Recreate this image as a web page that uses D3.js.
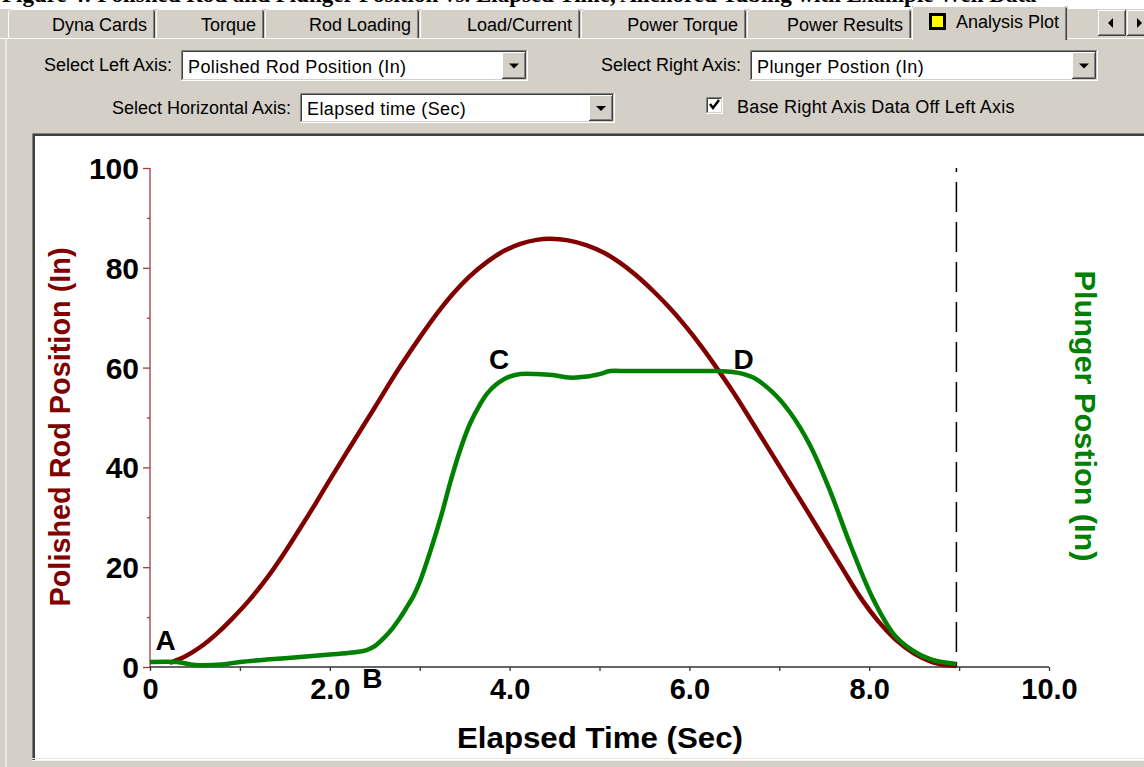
<!DOCTYPE html>
<html>
<head>
<meta charset="utf-8">
<script src="https://cdn.jsdelivr.net/npm/d3@7"></script>
<style>
  html, body { margin: 0; padding: 0; background: #d4d0c8; overflow: hidden; }
  svg { display: block; }
</style>
</head>
<body>
<svg id="chart" width="1144" height="767"></svg>
<script>
// ---- Data ----
// Polished rod position (in) against elapsed time (sec)
const rodTime = [0.22, 0.4, 0.56, 0.75, 0.92, 1.1, 1.3, 1.5, 1.67, 1.85, 2.0, 2.25, 2.5, 2.75, 3.0, 3.2, 3.37, 3.55, 3.75, 3.95, 4.12, 4.3, 4.45, 4.65, 4.86, 5.05, 5.23, 5.4, 5.6, 5.8, 5.97, 6.13, 6.27, 6.49, 6.7, 6.9, 7.1, 7.3, 7.5, 7.7, 7.9, 8.1, 8.3, 8.5, 8.7, 8.85, 8.97];
const rodPos  = [0.8, 2.2, 4, 6.8, 9.8, 13.3, 17.8, 23, 27.8, 33, 37.5, 44.8, 52, 59.3, 66, 71, 74.8, 78.2, 81.2, 83.5, 84.8, 85.6, 85.8, 85.5, 84.5, 83, 81, 78.6, 75.3, 71.6, 68, 64.3, 60.8, 55, 49, 43.2, 37.4, 31.6, 25.7, 19.8, 14, 9.2, 5.4, 2.7, 1, 0.4, 0.2];

// Plunger position (in) against elapsed time (sec)
const plungerTime = [0, 0.3, 0.5, 0.8, 1.0, 1.3, 1.67, 2.0, 2.25, 2.41, 2.5, 2.6, 2.7, 2.78, 2.85, 2.93, 3.0, 3.05, 3.15, 3.25, 3.34, 3.45, 3.56, 3.67, 3.75, 3.85, 3.93, 4.0, 4.12, 4.3, 4.48, 4.67, 4.86, 5.0, 5.12, 5.3, 5.6, 5.9, 6.2, 6.34, 6.53, 6.71, 6.93, 7.12, 7.34, 7.56, 7.79, 8.05, 8.3, 8.57, 8.75, 8.93, 8.97];
const plungerPos  = [1, 1, 0.4, 0.5, 1, 1.5, 2, 2.5, 2.9, 3.4, 4.2, 5.8, 7.8, 9.8, 11.8, 14.2, 17, 19.5, 25, 31, 37, 43.5, 48.8, 52.6, 54.8, 56.6, 57.6, 58.2, 58.7, 58.7, 58.5, 58, 58.2, 58.7, 59.3, 59.3, 59.3, 59.3, 59.3, 59.3, 59, 58, 55, 51, 44.5, 35.5, 24.5, 13.4, 6, 2.4, 1.2, 0.7, 0.6];

// End of the stroke cycle (sec)
const cycleEnd = 8.97;

// Axis ticks
const leftTicks = [0, 20, 40, 60, 80, 100];
const leftMinorTicks = [10, 30, 50, 70, 90];
const bottomTicks = [0, 2, 4, 6, 8, 10];
const bottomTickLabels = ["0", "2.0", "4.0", "6.0", "8.0", "10.0"];
const bottomMinorTicks = [1, 3, 5, 7, 9];

// Point labels (time, position)
const pointNames = ["A", "B", "C", "D"];
const pointTime = [0.06, 2.36, 3.77, 6.49];
const pointPos  = [3.4, -4.2, 59.7, 59.7];

// Window controls
const tabNames = ["Dyna Cards", "Torque", "Rod Loading", "Load/Current", "Power Torque", "Power Results", "Analysis Plot"];
const leftAxisChoice = "Polished Rod Position (In)";
const rightAxisChoice = "Plunger Postion (In)";
const horizontalAxisChoice = "Elapsed time (Sec)";
const titleText = "Figure 4: Polished Rod and Plunger Position vs. Elapsed Time, Anchored Tubing with Example Well Data";

// ---- Drawing ----
const svg = d3.select("#chart");
const FACE = "#d4d0c8", SHADOW = "#808080", DARK = "#404040", LIGHT = "#ffffff";
const uiFont = "'Liberation Sans', Arial, sans-serif";
const uiSize = 18;

// Page title, running off the top edge
svg.append("rect").attr("x", 0).attr("y", 0).attr("width", 1144).attr("height", 9).attr("fill", "#ffffff");
svg.append("text").attr("x", 2).attr("y", 2)
  .attr("font-family", "'Liberation Serif', 'Times New Roman', serif")
  .attr("font-weight", "bold").attr("font-size", 23)
  .attr("fill", "#000").text(titleText);

// Panel body
svg.append("rect").attr("x", 0).attr("y", 38).attr("width", 1144).attr("height", 729).attr("fill", FACE);
svg.append("line").attr("x1", 6).attr("x2", 6).attr("y1", 39).attr("y2", 767).attr("stroke", LIGHT);

// Tabs
const tabEdges = [8, 156, 265, 420, 581, 747, 912, 1068];
const tabs = svg.append("g");
tabNames.forEach((name, i) => {
  const x0 = tabEdges[i], x1 = tabEdges[i + 1];
  const active = i === tabNames.length - 1;
  const y0 = active ? 6 : 9, y1 = active ? 40 : 38;
  const g = tabs.append("g");
  g.append("rect").attr("x", x0).attr("y", y0).attr("width", x1 - x0).attr("height", y1 - y0).attr("fill", FACE);
  g.append("path").attr("d", `M${x0 + 0.5},${y1} V${y0 + 2.5} L${x0 + 2.5},${y0 + 0.5} H${x1 - 3}`)
    .attr("stroke", LIGHT).attr("fill", "none");
  g.append("path").attr("d", `M${x1 - 2.5},${y0 + 1} V${y1}`).attr("stroke", SHADOW).attr("fill", "none");
  g.append("path").attr("d", `M${x1 - 1.5},${y0 + 2} V${y1}`).attr("stroke", DARK).attr("fill", "none");
  g.append("text").attr("x", x1 - 9).attr("y", y0 + 22)
    .attr("text-anchor", "end").attr("font-family", uiFont).attr("font-size", uiSize)
    .attr("fill", "#000").text(name);
  if (active) {
    g.append("rect").attr("x", 930.5).attr("y", 14.5).attr("width", 14).attr("height", 14)
      .attr("fill", "#ffff00").attr("stroke", "#000").attr("stroke-width", 3);
  }
});
// panel top highlight, broken by the active tab
svg.append("line").attr("x1", 0).attr("x2", 912).attr("y1", 38.5).attr("y2", 38.5).attr("stroke", LIGHT);
svg.append("line").attr("x1", 1068).attr("x2", 1144).attr("y1", 38.5).attr("y2", 38.5).attr("stroke", LIGHT);

// Tab scroll buttons
function raisedBox(g, x, y, w, h) {
  g.append("rect").attr("x", x).attr("y", y).attr("width", w).attr("height", h).attr("fill", FACE);
  g.append("path").attr("d", `M${x + 0.5},${y + h} V${y + 0.5} H${x + w}`).attr("stroke", LIGHT).attr("fill", "none");
  g.append("path").attr("d", `M${x},${y + h - 0.5} H${x + w - 0.5} V${y}`).attr("stroke", DARK).attr("fill", "none");
  g.append("path").attr("d", `M${x + 1},${y + h - 1.5} H${x + w - 1.5} V${y + 1}`).attr("stroke", SHADOW).attr("fill", "none");
}
const scroll = svg.append("g");
raisedBox(scroll, 1098, 10, 28, 26);
raisedBox(scroll, 1127, 10, 28, 26);
scroll.append("path").attr("d", "M1108,23 L1113,18 V28 Z").attr("fill", "#000");
scroll.append("path").attr("d", "M1142,23 L1137,18 V28 Z").attr("fill", "#000");

// Sunken field
function sunkenBox(g, x, y, w, h) {
  g.append("rect").attr("x", x).attr("y", y).attr("width", w).attr("height", h).attr("fill", "#fff");
  g.append("path").attr("d", `M${x + 0.5},${y + h - 1} V${y + 0.5} H${x + w - 1}`).attr("stroke", SHADOW).attr("fill", "none");
  g.append("path").attr("d", `M${x + 1.5},${y + h - 2} V${y + 1.5} H${x + w - 2}`).attr("stroke", DARK).attr("fill", "none");
  g.append("path").attr("d", `M${x},${y + h - 0.5} H${x + w - 0.5} V${y}`).attr("stroke", LIGHT).attr("fill", "none");
  g.append("path").attr("d", `M${x + 1},${y + h - 1.5} H${x + w - 1.5} V${y + 1}`).attr("stroke", FACE).attr("fill", "none");
}

// Drop-down lists
function comboBox(x, y, w, h, value) {
  const g = svg.append("g");
  sunkenBox(g, x, y, w, h);
  const bw = 24;
  raisedBox(g, x + w - bw - 2, y + 2, bw, h - 4);
  const cx = x + w - 2 - bw / 2, cy = y + h / 2;
  g.append("path").attr("d", `M${cx - 5},${cy - 2} H${cx + 5} L${cx},${cy + 3} Z`).attr("fill", "#000");
  g.append("text").attr("x", x + 7).attr("y", y + h / 2 + 7)
    .attr("font-family", uiFont).attr("font-size", uiSize).attr("letter-spacing", 0.4)
    .attr("fill", "#000").text(value);
}
function caption(xRight, y, text) {
  svg.append("text").attr("x", xRight).attr("y", y).attr("text-anchor", "end")
    .attr("font-family", uiFont).attr("font-size", uiSize).attr("fill", "#000").text(text);
}
caption(172, 71, "Select Left Axis:");
comboBox(181, 50, 347, 31, leftAxisChoice);
caption(741, 71, "Select Right Axis:");
comboBox(750, 50, 348, 31, rightAxisChoice);
caption(291, 114, "Select Horizontal Axis:");
comboBox(300, 93, 315, 30, horizontalAxisChoice);

// Check box
const chk = svg.append("g");
sunkenBox(chk, 706, 97, 17, 17);
chk.append("path").attr("d", "M710,104 L713,108 L719,100").attr("fill", "none").attr("stroke", "#000").attr("stroke-width", 2.4);
svg.append("text").attr("x", 737).attr("y", 113).attr("font-family", uiFont).attr("font-size", uiSize)
  .attr("letter-spacing", 0.2).attr("fill", "#000").text("Base Right Axis Data Off Left Axis");

// Plot frame
svg.append("rect").attr("x", 32).attr("y", 133).attr("width", 1120).attr("height", 628).attr("fill", "#fff");
svg.append("path").attr("d", "M32.5,761 V133.5 H1144").attr("stroke", SHADOW).attr("stroke-width", 1).attr("fill", "none");
svg.append("path").attr("d", "M34,761 V135 H1144").attr("stroke", DARK).attr("stroke-width", 2).attr("fill", "none");
svg.append("line").attr("x1", 32).attr("x2", 1144).attr("y1", 758.5).attr("y2", 758.5).attr("stroke", "#e8e6e2");
svg.append("line").attr("x1", 32).attr("x2", 1144).attr("y1", 760.5).attr("y2", 760.5).attr("stroke", "#f4f3f1");

// Scales
const x = d3.scaleLinear().domain([0, 10]).range([150, 1049]);
const y = d3.scaleLinear().domain([0, 100]).range([667, 168]);
const tickFont = "'Liberation Sans', Arial, sans-serif";

// Left axis
const leftAxis = svg.append("g").attr("transform", `translate(${x(0)},0)`);
leftAxis.call(d3.axisLeft(y).tickValues(leftTicks).tickSize(7).tickFormat(d3.format("d")));
leftAxis.append("g").call(d3.axisLeft(y).tickValues(leftMinorTicks).tickSize(3).tickFormat(""))
  .select(".domain").remove();
leftAxis.selectAll(".domain").attr("d", `M0,${y(100)}V${y(0)}`).attr("stroke", "#a33a3a").attr("stroke-width", 1.3);
leftAxis.selectAll(".tick line").attr("stroke", "#a33a3a").attr("stroke-width", 1.3);
leftAxis.selectAll(".tick text")
  .attr("font-family", tickFont).attr("font-weight", "bold").attr("font-size", 30)
  .attr("fill", "#000").attr("x", -11).attr("dy", "0.35em");

// Bottom axis
const bottomAxis = svg.append("g").attr("transform", `translate(0,${y(0)})`);
bottomAxis.call(d3.axisBottom(x).tickValues(bottomTicks).tickSize(4).tickFormat((d, i) => bottomTickLabels[i]));
bottomAxis.append("g").call(d3.axisBottom(x).tickValues(bottomMinorTicks).tickSize(4).tickFormat(""))
  .select(".domain").remove();
bottomAxis.selectAll(".domain").attr("d", `M${x(0)},0H${x(10)}`).attr("stroke", "#333").attr("stroke-width", 1.3);
bottomAxis.selectAll(".tick line").attr("stroke", "#333").attr("stroke-width", 1.3);
bottomAxis.selectAll(".tick text")
  .attr("font-family", tickFont).attr("font-weight", "bold").attr("font-size", 29)
  .attr("fill", "#000").attr("y", 11).attr("dy", "0.71em");

// Axis titles
svg.append("text").attr("x", 600).attr("y", 748).attr("text-anchor", "middle")
  .attr("font-family", tickFont).attr("font-weight", "bold").attr("font-size", 30)
  .attr("textLength", 286).attr("lengthAdjust", "spacingAndGlyphs")
  .attr("fill", "#000").text("Elapsed Time (Sec)");
svg.append("text").attr("transform", "translate(70,427) rotate(-90)").attr("text-anchor", "middle")
  .attr("font-family", tickFont).attr("font-weight", "bold").attr("font-size", 29)
  .attr("textLength", 359).attr("lengthAdjust", "spacingAndGlyphs")
  .attr("fill", "#800000").text(leftAxisChoice);
svg.append("text").attr("transform", "translate(1075,416) rotate(90)").attr("text-anchor", "middle")
  .attr("font-family", tickFont).attr("font-weight", "bold").attr("font-size", 29)
  .attr("textLength", 291).attr("lengthAdjust", "spacingAndGlyphs")
  .attr("fill", "#008000").text(rightAxisChoice);

// End-of-cycle marker
svg.append("line").attr("x1", x(cycleEnd)).attr("x2", x(cycleEnd))
  .attr("y1", y(100)).attr("y2", y(0))
  .attr("stroke", "#000").attr("stroke-width", 1.5).attr("stroke-dasharray", "30,10")
  .attr("stroke-dashoffset", 26);

// Curves
const line = d3.line().x(d => x(d[0])).y(d => y(d[1])).curve(d3.curveCatmullRom.alpha(0.5));
svg.append("path").datum(rodTime.map((t, i) => [t, rodPos[i]]))
  .attr("d", line).attr("fill", "none").attr("stroke", "#800000").attr("stroke-width", 4.5)
  .attr("stroke-linejoin", "round");
svg.append("path").datum(plungerTime.map((t, i) => [t, plungerPos[i]]))
  .attr("d", line).attr("fill", "none").attr("stroke", "#008000").attr("stroke-width", 4.5)
  .attr("stroke-linejoin", "round");

// Point labels
svg.append("g").selectAll("text").data(pointNames).join("text")
  .attr("x", (d, i) => x(pointTime[i])).attr("y", (d, i) => y(pointPos[i]))
  .attr("font-family", tickFont).attr("font-weight", "bold").attr("font-size", 28)
  .attr("fill", "#000").text(d => d);
</script>
</body>
</html>
